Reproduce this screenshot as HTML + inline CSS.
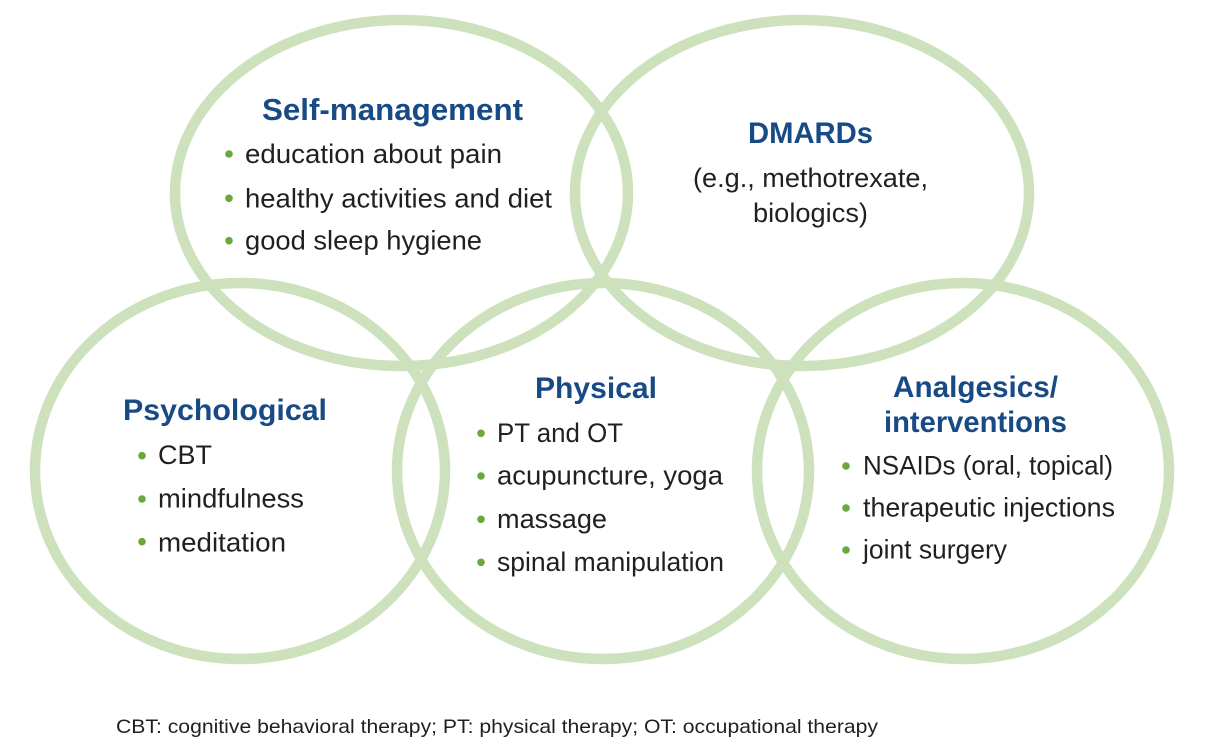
<!DOCTYPE html>
<html>
<head>
<meta charset="utf-8">
<style>
  html, body { margin: 0; padding: 0; background: #ffffff; }
  body { width: 1218px; height: 745px; overflow: hidden; }
  svg { display: block; }
  .t { font-family: "Liberation Sans", Arial, sans-serif; font-weight: bold; fill: #184a86; font-size: 30px; }
  .b { font-family: "Liberation Sans", Arial, sans-serif; fill: #231f20; font-size: 27px; }
  .f { font-family: "Liberation Sans", Arial, sans-serif; fill: #231f20; font-size: 19.5px; }
  .d { fill: #6aa83c; }
  .e { fill: none; stroke: #cde2bc; stroke-width: 10.5; }
</style>
</head>
<body>
<svg width="1218" height="745" viewBox="0 0 1218 745" xmlns="http://www.w3.org/2000/svg">
  <rect x="0" y="0" width="1218" height="745" fill="#ffffff"/>

  <!-- ellipses -->
  <ellipse class="e" cx="401.5" cy="193" rx="226.5" ry="173"/>
  <ellipse class="e" cx="802" cy="193" rx="227" ry="173"/>
  <ellipse class="e" cx="240" cy="471" rx="205" ry="188"/>
  <ellipse class="e" cx="603" cy="471" rx="206" ry="188"/>
  <ellipse class="e" cx="963" cy="471" rx="206" ry="188"/>

  <!-- Self-management -->
  <text class="t" x="262" y="120" style="font-size:31px" textLength="261" lengthAdjust="spacingAndGlyphs">Self-management</text>
  <circle class="d" cx="229" cy="154" r="3.8"/>
  <circle class="d" cx="229" cy="198.3" r="3.8"/>
  <circle class="d" cx="229" cy="240.7" r="3.8"/>
  <text class="b" x="245" y="163" textLength="257" lengthAdjust="spacingAndGlyphs">education about pain</text>
  <text class="b" x="245" y="207.3" textLength="307" lengthAdjust="spacingAndGlyphs">healthy activities and diet</text>
  <text class="b" x="245" y="249.7" textLength="237" lengthAdjust="spacingAndGlyphs">good sleep hygiene</text>

  <!-- DMARDs -->
  <text class="t" x="748" y="143" textLength="125" lengthAdjust="spacingAndGlyphs">DMARDs</text>
  <text class="b" x="693" y="187" textLength="235" lengthAdjust="spacingAndGlyphs">(e.g., methotrexate,</text>
  <text class="b" x="753" y="222" textLength="115" lengthAdjust="spacingAndGlyphs">biologics)</text>

  <!-- Psychological -->
  <text class="t" x="123" y="420" textLength="204" lengthAdjust="spacingAndGlyphs">Psychological</text>
  <circle class="d" cx="142" cy="455.7" r="3.8"/>
  <circle class="d" cx="142" cy="499" r="3.8"/>
  <circle class="d" cx="142" cy="541.7" r="3.8"/>
  <text class="b" x="158" y="464" textLength="54" lengthAdjust="spacingAndGlyphs">CBT</text>
  <text class="b" x="158" y="507.3" textLength="146" lengthAdjust="spacingAndGlyphs">mindfulness</text>
  <text class="b" x="158" y="551.7" textLength="128" lengthAdjust="spacingAndGlyphs">meditation</text>

  <!-- Physical -->
  <text class="t" x="535" y="398" textLength="122" lengthAdjust="spacingAndGlyphs">Physical</text>
  <circle class="d" cx="481" cy="433.3" r="3.8"/>
  <circle class="d" cx="481" cy="476" r="3.8"/>
  <circle class="d" cx="481" cy="519.3" r="3.8"/>
  <circle class="d" cx="481" cy="562.3" r="3.8"/>
  <text class="b" x="497" y="442" textLength="126" lengthAdjust="spacingAndGlyphs">PT and OT</text>
  <text class="b" x="497" y="484.7" textLength="226" lengthAdjust="spacingAndGlyphs">acupuncture, yoga</text>
  <text class="b" x="497" y="528" textLength="110" lengthAdjust="spacingAndGlyphs">massage</text>
  <text class="b" x="497" y="571" textLength="227" lengthAdjust="spacingAndGlyphs">spinal manipulation</text>

  <!-- Analgesics -->
  <text class="t" x="893" y="397" textLength="165" lengthAdjust="spacingAndGlyphs">Analgesics/</text>
  <text class="t" x="884" y="432" textLength="183" lengthAdjust="spacingAndGlyphs">interventions</text>
  <circle class="d" cx="846" cy="466" r="3.8"/>
  <circle class="d" cx="846" cy="508" r="3.8"/>
  <circle class="d" cx="846" cy="550" r="3.8"/>
  <text class="b" x="863" y="474.5" textLength="250" lengthAdjust="spacingAndGlyphs">NSAIDs (oral, topical)</text>
  <text class="b" x="863" y="516.5" textLength="252" lengthAdjust="spacingAndGlyphs">therapeutic injections</text>
  <text class="b" x="863" y="558.5" textLength="144" lengthAdjust="spacingAndGlyphs">joint surgery</text>

  <!-- Footnote -->
  <text class="f" x="116" y="733" textLength="762" lengthAdjust="spacingAndGlyphs">CBT: cognitive behavioral therapy; PT: physical therapy; OT: occupational therapy</text>
</svg>
</body>
</html>
